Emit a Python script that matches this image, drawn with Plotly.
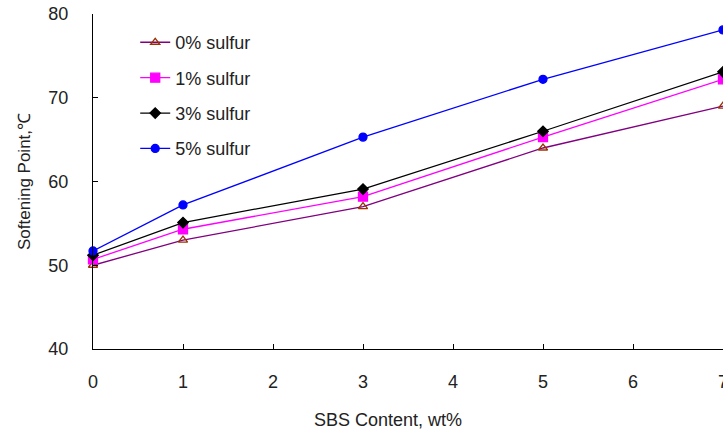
import plotly.graph_objects as go

sbs = [0, 1, 3, 5, 7]
names = ["0% sulfur", "1% sulfur", "3% sulfur", "5% sulfur"]
s0 = [50.0, 53.0, 57.0, 64.0, 69.0]
s1 = [50.7, 54.3, 58.2, 65.3, 72.2]
s3 = [51.2, 55.1, 59.1, 66.0, 73.1]
s5 = [51.7, 57.2, 65.3, 72.2, 78.1]
x_ticks = [0, 1, 2, 3, 4, 5, 6, 7]
y_ticks = [40, 50, 60, 70, 80]
x_title = "SBS Content, wt%"
y_title = "Softening Point,℃"

series = [s0, s1, s3, s5]
line_colors = ["#800080", "#FF00FF", "#000000", "#0000FF"]
marker_colors = ["#993300", "#FF00FF", "#000000", "#0000FF"]
symbols = ["triangle-up-open", "square", "diamond", "circle"]
sizes = [8, 9, 8, 8]

fig = go.Figure()
for i, (n, ys) in enumerate(zip(names, series)):
    fig.add_trace(go.Scatter(
        x=sbs, y=ys, name=n, mode="lines+markers", legendgroup=n,
        line=dict(color=line_colors[i], width=1.3),
        marker=dict(symbol=symbols[i], size=sizes[i], color=marker_colors[i],
                    line=dict(color=marker_colors[i], width=1.3)),
        cliponaxis=False,
    ))

fig.add_annotation(text=x_title, xref="paper", yref="paper", x=0.468, y=-0.212,
                   xanchor="center", yanchor="middle", showarrow=False,
                   font=dict(size=18, color="#222"))

fig.update_layout(
    width=723, height=431,
    paper_bgcolor="white", plot_bgcolor="white",
    margin=dict(l=93, r=0, t=14, b=82),
    font=dict(family="Liberation Sans, Arial, sans-serif", size=17, color="#000"),
    showlegend=True,
    legend=dict(x=0.067, y=0.97, xanchor="left", yanchor="top",
                bgcolor="rgba(0,0,0,0)", tracegroupgap=9,
                font=dict(size=18, color="#222"), itemwidth=30),
    xaxis=dict(range=[0, 7], tickvals=x_ticks, showgrid=False, zeroline=False,
               showline=True, linecolor="#000", linewidth=1.3, automargin=False,
               ticks="inside", ticklen=5, tickcolor="#000", ticklabelstandoff=16,
               ticklabeloverflow="allow",
               tickfont=dict(size=18, color="#222")),
    yaxis=dict(range=[40, 80], tickvals=y_ticks, showgrid=False, zeroline=False,
               showline=True, linecolor="#000", linewidth=1.3, automargin=False,
               ticks="inside", ticklen=5, tickcolor="#000", ticklabelstandoff=20,
               ticklabeloverflow="allow",
               tickfont=dict(size=18, color="#222"),
               title=dict(text=y_title, font=dict(size=17, color="#222"), standoff=13)),
)

fig.write_html("out.html", config={"displayModeBar": False},
               post_script="document.body.style.margin='0';document.body.style.overflow='hidden';")
